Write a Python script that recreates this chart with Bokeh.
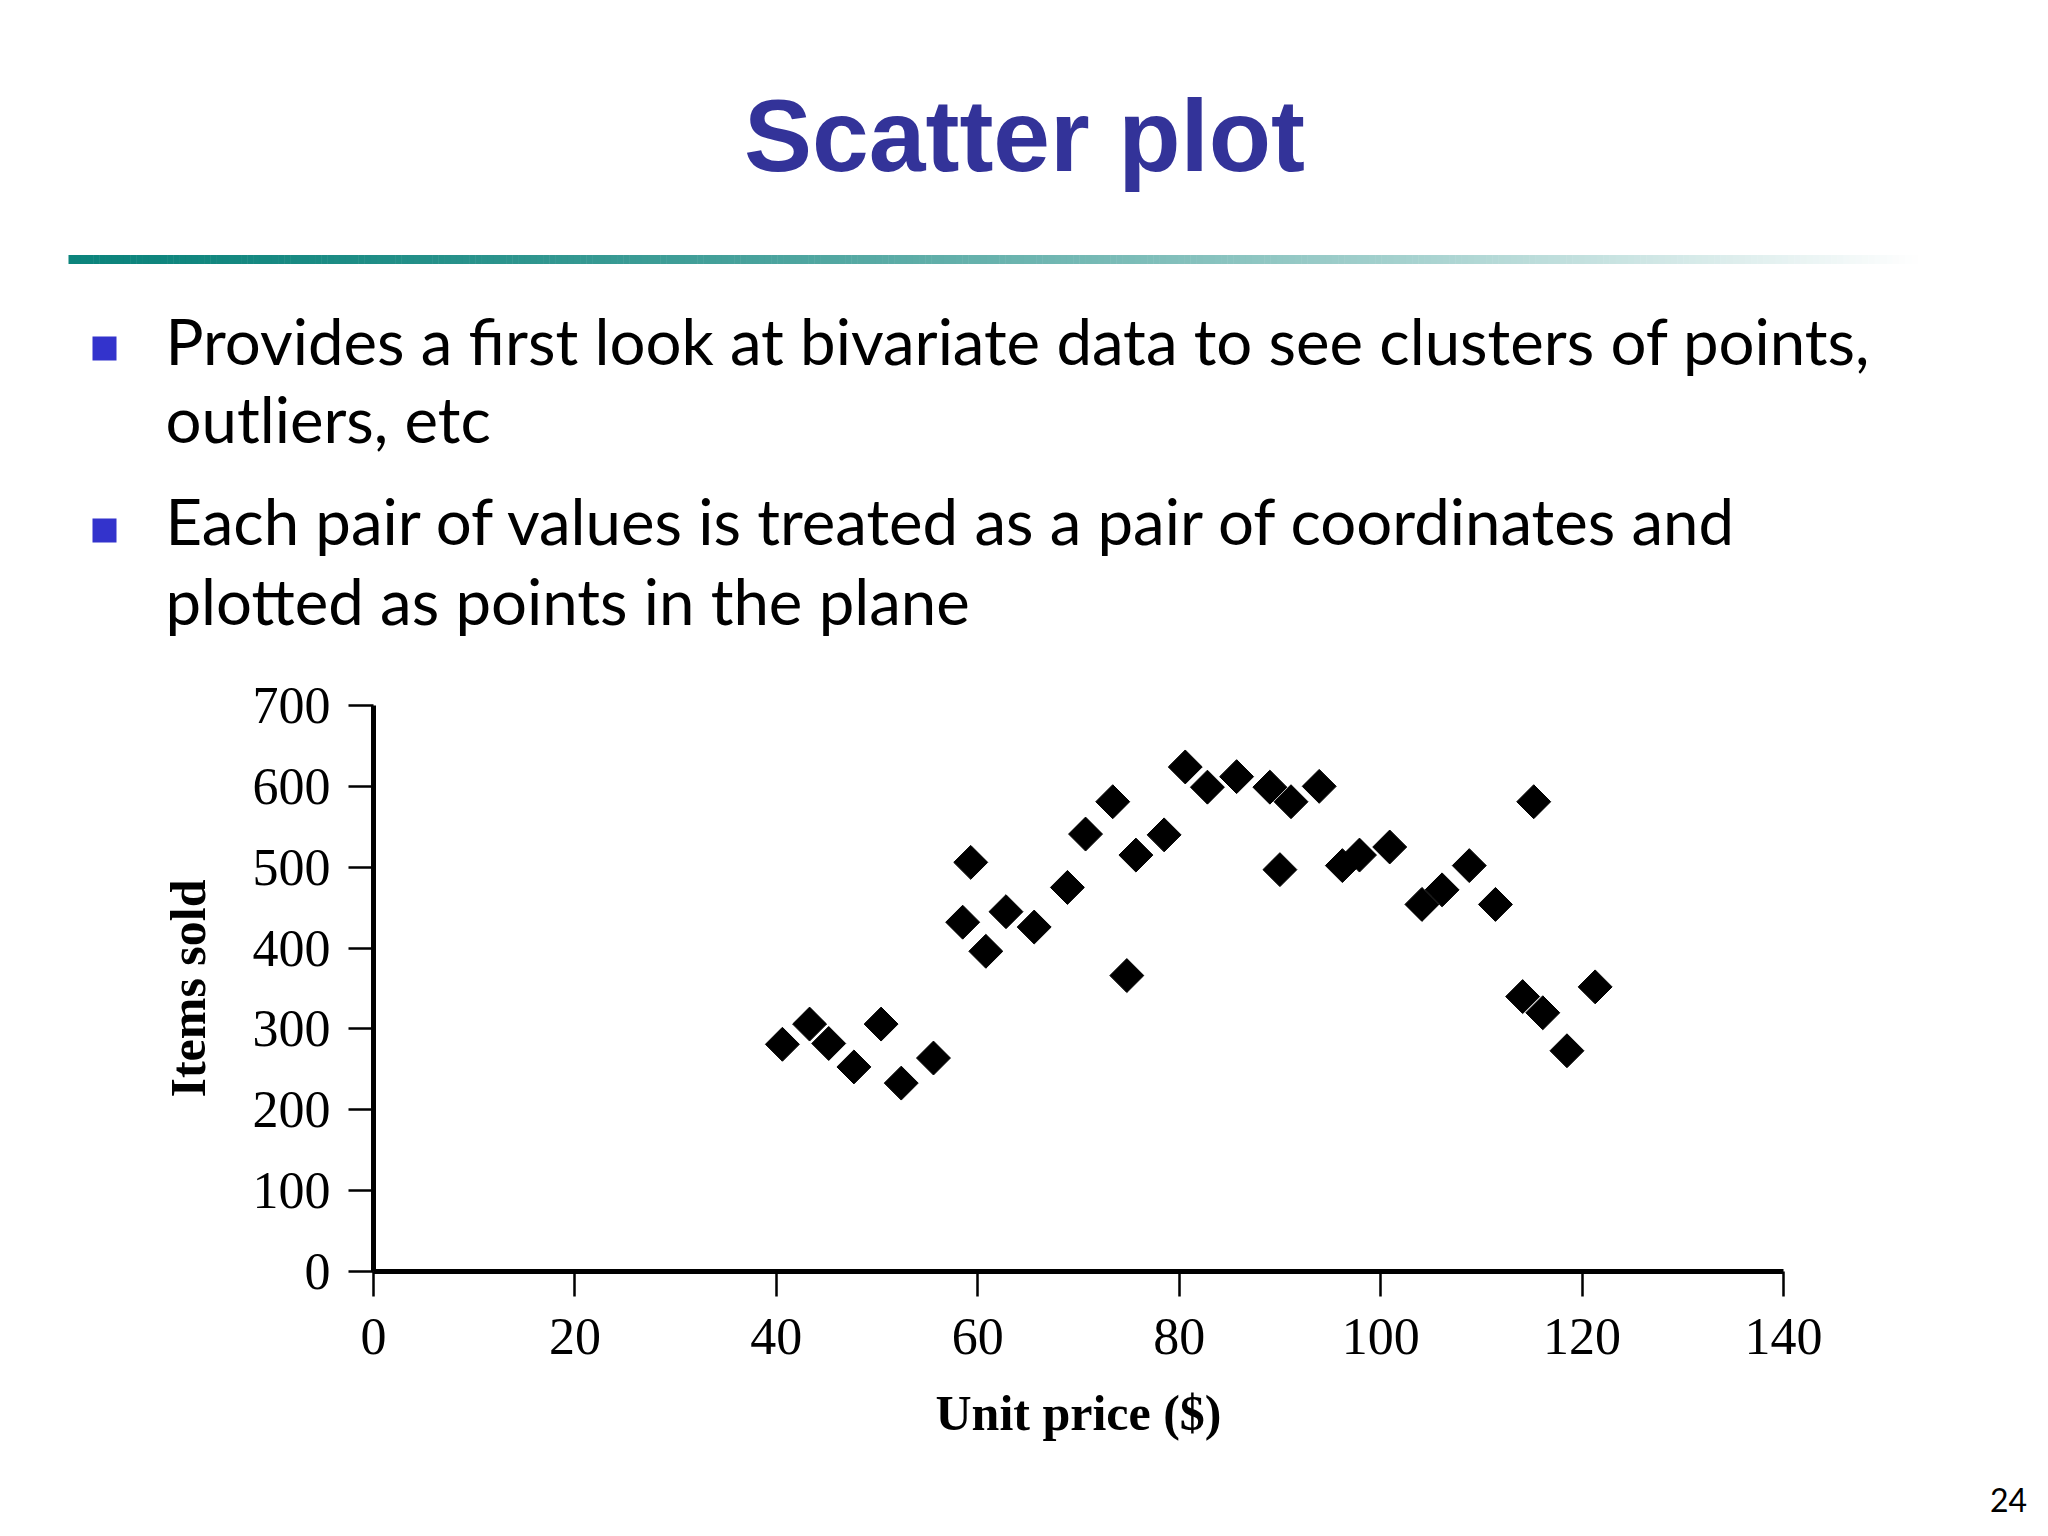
import numpy as np
from bokeh.plotting import figure
from bokeh.layouts import column
from bokeh.models import Range1d, FixedTicker
from bokeh.core.properties import value
from bokeh.embed import file_html
from bokeh.resources import INLINE

# ---------------- data ----------------
title_text = "Scatter plot"
bullet_lines = [
    "Provides a first look at bivariate data to see clusters of points,",
    "outliers, etc",
    "Each pair of values is treated as a pair of coordinates and",
    "plotted as points in the plane",
]
unit_price = [40.6, 43.3, 45.2, 47.7, 50.4, 52.4, 55.6, 58.5, 59.3, 60.8,
              62.8, 65.6, 68.9, 70.7, 73.4, 74.8, 75.7, 78.5, 80.6, 82.8,
              85.7, 89.0, 90.0, 91.1, 93.9, 96.2, 97.9, 100.9, 104.1, 106.1,
              108.8, 111.4, 114.1, 115.2, 116.1, 118.5, 121.3]
items_sold = [281, 306, 282, 253, 306, 233, 264, 432, 506, 396,
              445, 426, 475, 541, 581, 366, 515, 540, 624, 599,
              612, 599, 497, 581, 600, 502, 515, 525, 454, 472,
              502, 454, 340, 581, 320, 273, 352]
x_ticks = [0, 20, 40, 60, 80, 100, 120, 140]
y_ticks = [0, 100, 200, 300, 400, 500, 600, 700]
x_label = "Unit price ($)"
y_label = "Items sold"
page_number = "24"

W = 2032


def blank(h):
    f = figure(width=W, height=h, x_range=Range1d(0, W), y_range=Range1d(h, 0),
               x_axis_type=None, y_axis_type=None, toolbar_location=None,
               output_backend="svg", min_border=0, outline_line_color=None)
    f.background_fill_color = "white"
    f.border_fill_color = "white"
    return f


# ---------------- header (title, rule, bullets) ----------------
HEAD_H = 665
head = blank(HEAD_H)

head.text(x=[1024], y=[135], text=[title_text], text_font=value("Liberation Sans"),
          text_font_style="bold", text_font_size=value("102px"), text_color="#333399",
          text_align="center", text_baseline="alphabetic")

# gradient rule
n = 300
x0, x1 = 68, 1917
edges = np.linspace(x0, x1, n + 1)
c0 = np.array([12, 132, 124])
cols = []
for i in range(n):
    t = (i + 0.5) / n
    f = t ** 1.4
    c = (c0 + (255 - c0) * f).astype(int)
    cols.append("#%02x%02x%02x" % tuple(c))
head.quad(left=edges[:-1], right=edges[1:] + 0.5, top=254.5, bottom=263.5,
          fill_color=cols, line_color=None)

# bullets
head.rect(x=[104, 104], y=[348, 530], width=24, height=24, width_units="screen",
          height_units="screen", fill_color="#3333cc", line_color=None)
head.text(x=[165, 165, 165, 165], y=[340, 418, 520, 600], text=bullet_lines,
          text_font=value("Lato"), text_font_size=value("63.5px"), text_color="black",
          text_align="left", text_baseline="alphabetic")

# ---------------- scatter chart ----------------
SC_H = 807
LEFT = 373
FW = 1410
sc = figure(width=W, height=SC_H, x_range=Range1d(0, 140), y_range=Range1d(0, 700),
            toolbar_location=None, output_backend="svg",
            min_border_left=LEFT, min_border_right=W - LEFT - FW,
            min_border_top=40, min_border_bottom=SC_H - 40 - 566,
            outline_line_color=None)
sc.grid.visible = False
sc.scatter(unit_price, items_sold, marker="square", size=24, angle=np.pi / 4,
           fill_color="black", line_color="black", line_width=1)

for ax, ticks, lab in ((sc.xaxis[0], x_ticks, x_label), (sc.yaxis[0], y_ticks, y_label)):
    ax.ticker = FixedTicker(ticks=ticks)
    ax.axis_line_width = 5
    ax.axis_line_color = "black"
    ax.major_tick_line_width = 2.5
    ax.major_tick_line_color = "black"
    ax.major_tick_out = 25
    ax.major_tick_in = 0
    ax.minor_tick_line_color = None
    ax.major_label_text_font = "Liberation Serif"
    ax.major_label_text_font_size = "52px"
    ax.major_label_text_color = "black"
    ax.axis_label = lab
    ax.axis_label_text_font = "Liberation Serif"
    ax.axis_label_text_font_style = "bold"
    ax.axis_label_text_font_size = "50px"
    ax.axis_label_text_color = "black"

sc.xaxis[0].major_label_standoff = 22
sc.xaxis[0].axis_label_standoff = 28
sc.yaxis[0].major_label_standoff = 18
sc.yaxis[0].axis_label_standoff = 34

# ---------------- footer (page number) ----------------
FOOT_H = 48
foot = blank(FOOT_H)
foot.text(x=[2008], y=[27], text=[page_number], text_font=value("Lato"),
          text_font_size=value("32px"), text_color="black",
          text_align="center", text_baseline="middle")

layout = column(column(head), sc, column(foot), spacing=0)
open("out.html", "w").write(file_html(layout, INLINE))
